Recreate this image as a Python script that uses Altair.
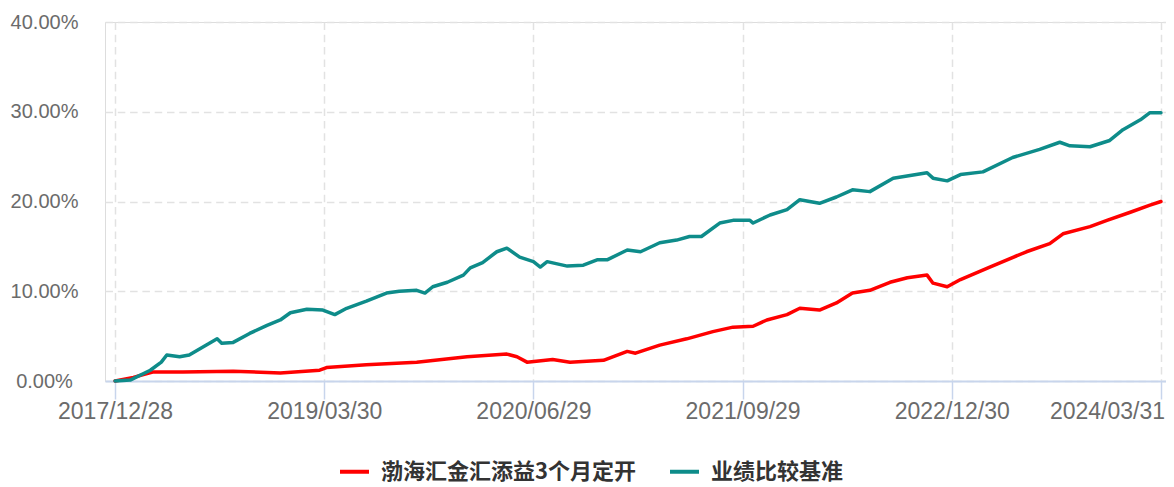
import altair as alt
import pandas as pd

fund_name = "渤海汇金汇添益3个月定开"
bench_name = "业绩比较基准"

fund_dates = ["2017-12-28", "2018-02-06", "2018-03-20", "2018-05-25", "2018-09-12", "2018-12-24",
              "2019-03-20", "2019-04-04", "2019-06-30", "2019-10-18", "2020-02-05", "2020-05-02",
              "2020-05-24", "2020-06-15", "2020-08-10", "2020-09-17", "2020-11-29", "2021-01-20",
              "2021-02-07", "2021-04-01", "2021-05-30", "2021-07-26", "2021-09-08", "2021-10-22",
              "2021-11-21", "2022-01-04", "2022-02-01", "2022-03-16", "2022-04-22", "2022-05-27",
              "2022-07-04", "2022-08-17", "2022-09-24", "2022-11-06", "2022-11-19", "2022-12-20",
              "2023-01-18", "2023-03-23", "2023-06-11", "2023-08-01", "2023-08-30", "2023-10-28",
              "2023-12-04", "2024-01-24", "2024-03-07", "2024-03-31"]
fund_pct = [0.0, 0.4, 1.0, 1.0, 1.1, 0.9,
            1.2, 1.5, 1.8, 2.1, 2.7, 3.0,
            2.7, 2.1, 2.4, 2.1, 2.3, 3.3,
            3.1, 4.0, 4.7, 5.5, 6.0, 6.1,
            6.8, 7.4, 8.1, 7.9, 8.7, 9.8,
            10.1, 11.0, 11.5, 11.8, 10.9, 10.5,
            11.3, 12.7, 14.4, 15.3, 16.4, 17.2,
            17.9, 18.8, 19.6, 20.0]

bench_dates = ["2017-12-28", "2018-01-30", "2018-03-15", "2018-04-08", "2018-04-20", "2018-05-18",
               "2018-06-08", "2018-07-08", "2018-08-08", "2018-08-18", "2018-09-12", "2018-10-18",
               "2018-11-25", "2018-12-24", "2019-01-15", "2019-02-20", "2019-03-27", "2019-04-22",
               "2019-05-18", "2019-06-30", "2019-08-13", "2019-09-10", "2019-10-18", "2019-11-05",
               "2019-11-22", "2019-12-24", "2020-01-28", "2020-02-12", "2020-03-10", "2020-04-10",
               "2020-05-02", "2020-05-30", "2020-06-29", "2020-07-14", "2020-07-29", "2020-09-11",
               "2020-10-16", "2020-11-15", "2020-12-07", "2021-01-20", "2021-02-18", "2021-04-01",
               "2021-05-08", "2021-06-05", "2021-07-01", "2021-08-10", "2021-09-08", "2021-10-15",
               "2021-10-22", "2021-11-28", "2022-01-04", "2022-02-01", "2022-03-16", "2022-04-22",
               "2022-05-27", "2022-07-04", "2022-08-24", "2022-09-30", "2022-11-06", "2022-11-19",
               "2022-12-20", "2023-01-18", "2023-03-08", "2023-05-12", "2023-07-10", "2023-08-23",
               "2023-09-14", "2023-10-28", "2023-12-10", "2024-01-08", "2024-02-15", "2024-03-07",
               "2024-03-31"]
bench_pct = [0.0, 0.1, 1.2, 2.1, 2.9, 2.7,
             2.9, 3.8, 4.7, 4.2, 4.3, 5.3,
             6.2, 6.8, 7.6, 8.0, 7.9, 7.4,
             8.1, 8.9, 9.8, 10.0, 10.1, 9.8,
             10.5, 11.0, 11.8, 12.6, 13.2, 14.4,
             14.8, 13.8, 13.3, 12.7, 13.3, 12.8,
             12.9, 13.5, 13.5, 14.6, 14.4, 15.4,
             15.7, 16.1, 16.1, 17.6, 17.9, 17.9,
             17.6, 18.5, 19.1, 20.2, 19.8, 20.5,
             21.3, 21.1, 22.6, 22.9, 23.2, 22.6,
             22.3, 23.0, 23.3, 24.9, 25.8, 26.6,
             26.2, 26.1, 26.8, 28.0, 29.1, 29.9,
             29.9]

x_tick_dates = [(2017, 12, 28), (2019, 3, 30), (2020, 6, 29),
                (2021, 9, 29), (2022, 12, 30), (2024, 3, 31)]
y_ticks = [0, 10, 20, 30, 40]

df = pd.concat([
    pd.DataFrame({"date": pd.to_datetime(fund_dates), "pct": fund_pct, "series": fund_name}),
    pd.DataFrame({"date": pd.to_datetime(bench_dates), "pct": bench_pct, "series": bench_name}),
], ignore_index=True)

axis_font = "Liberation Sans"
grid_color = "#e2e2e2"
grid_dash = [7.5, 4.8]

x_axis = alt.Axis(
    values=[alt.DateTime(year=y, month=m, date=d) for (y, m, d) in x_tick_dates],
    format="%Y/%m/%d",
    title=None,
    domainColor="#c8d5ec",
    domainWidth=2,
    tickColor="#c8d5ec",
    tickSize=18,
    tickWidth=1.5,
    labelPadding=1,
    labelFont=axis_font,
    labelFontSize=23,
    labelColor="#6b6b6b",
    labelOverlap=False,
    labelFlush=False,
    labelOffset={"condition": {"test": "datum.index == 1", "value": -54}, "value": 0},
    grid=True,
    gridColor=grid_color,
    gridDash=grid_dash,
    gridWidth=1.5,
)

y_axis = alt.Axis(
    values=y_ticks,
    labelExpr="format(datum.value, '.2f') + '%'",
    title=None,
    domain=False,
    ticks=False,
    labelAlign="center",
    labelPadding=61,
    labelFont=axis_font,
    labelFontSize=20,
    labelColor="#6b6b6b",
    grid=True,
    gridColor=grid_color,
    gridDash=grid_dash,
    gridWidth=1.5,
)

legend = alt.Legend(
    title=None,
    orient="none",
    legendX=233,
    legendY=433,
    direction="horizontal",
    symbolType="stroke",
    symbolSize=841,
    symbolStrokeWidth=4,
    labelFont="Noto Sans CJK SC",
    labelFontSize=22,
    labelFontWeight="bold",
    labelColor="#333333",
    labelOffset=10,
    labelLimit=400,
    columnPadding=26,
    padding=0,
)

chart = alt.Chart(df).mark_line(strokeWidth=3.5, strokeJoin="round", strokeCap="round").encode(
    x=alt.X("date:T",
            scale=alt.Scale(domain=[alt.DateTime(year=2017, month=12, date=6),
                                    alt.DateTime(year=2024, month=4, date=11)]),
            axis=x_axis),
    y=alt.Y("pct:Q", scale=alt.Scale(domain=[0, 40], nice=False), axis=y_axis),
    color=alt.Color("series:N",
                    scale=alt.Scale(domain=[fund_name, bench_name], range=["#ff0000", "#0e8c8a"]),
                    sort=[fund_name, bench_name],
                    legend=legend),
    detail="series:N",
).properties(
    width=1061,
    height=359,
    autosize=alt.AutoSizeParams(type="none"),
    padding={"left": 97, "top": 14, "right": 0, "bottom": 105},
).configure_view(stroke=None).configure(background="white")

chart.save("out.html", embed_options={"renderer": "svg", "actions": False})
